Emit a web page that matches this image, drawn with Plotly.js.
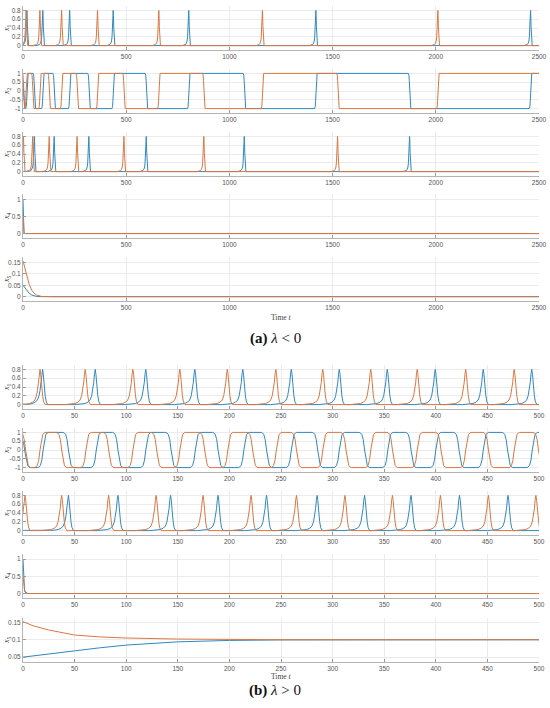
<!DOCTYPE html>
<html><head><meta charset="utf-8">
<script src="https://cdn.plot.ly/plotly-3.0.1.min.js"></script>
<style>html,body{margin:0;padding:0;background:#fff}</style>
</head><body><div id="chart" style="width:550px;height:708px"></div>
<script>
// ================= DATA =================
// (a) lambda < 0 : time 0..2500
const aTMax = 2500;
const a_x1_blue_spikes   = [19, 96, 226, 437, 803, 1419, 2459];
const a_x1_orange_spikes = [15, 82, 187, 361, 658, 1160, 2010];
const a_x2_blue_start    = 0.7;
const a_x2_blue_switch   = [2, 19, 55, 96, 151, 226, 320, 437, 598, 803, 1073, 1419, 1873, 2459];
const a_x2_orange_start  = 1;
const a_x2_orange_switch = [3, 15, 47, 82, 127, 187, 263, 361, 489, 658, 876, 1160, 1526, 2010];
const a_x3_blue_spikes   = [55, 151, 319, 597, 1072, 1873];
const a_x3_orange_spikes = [2, 47, 127, 262, 489, 876, 1524];
const a_x4_t      = [0, 1, 2, 3, 5, 8, 15, 2500];
const a_x4_blue   = [1, 0.3, 0.08, 0.02, 0.003, 0, 0, 0];
const a_x4_orange = [0.5, 0.3, 0.17, 0.1, 0.04, 0.01, 0, 0];
const a_x5_t      = [0, 9, 18, 30, 42, 54, 66, 90, 150, 2500];
const a_x5_blue   = [0.05, 0.038, 0.029, 0.015, 0.007, 0.003, 0.001, 0, 0, 0];
const a_x5_orange = [0.157, 0.12, 0.095, 0.055, 0.029, 0.015, 0.007, 0.001, 0, 0];

// (b) lambda > 0 : time 0..500
const bTMax = 500;
const b_x1_blue_spikes   = [19, 70, 119, 166.5, 213, 260, 306.5, 353, 399.5, 446, 493];
const b_x1_orange_spikes = [16.5, 60.3, 106.5, 152, 198, 245, 290.5, 337, 382, 429, 476];
const b_x2_blue_start    = 0.7;
const b_x2_blue_switch   = [2, 19.5, 44, 71, 92, 119, 143.5, 167, 189, 214, 236, 260, 285.5, 306.5, 331, 353.5, 376, 400, 422.5, 446, 469.5, 493.5];
const b_x2_orange_start  = 1;
const b_x2_orange_switch = [2.5, 16.5, 37.5, 61, 83, 106.5, 129.5, 152, 176, 198.5, 222.5, 245.5, 265, 290.5, 313, 337, 358, 382, 405, 429, 451, 476, 499.5];
const b_x3_blue_spikes   = [44, 92, 143, 189, 236, 285, 331, 376, 423, 470];
const b_x3_orange_spikes = [2, 37.5, 83, 129, 174.5, 221, 265, 312, 358, 404.5, 451, 497];
const b_x4_t      = [0, 0.5, 1, 1.5, 2, 3, 4, 6, 500];
const b_x4_blue   = [1, 0.45, 0.2, 0.09, 0.04, 0.01, 0.002, 0, 0];
const b_x4_orange = [0.5, 0.32, 0.2, 0.12, 0.07, 0.025, 0.008, 0, 0];
const b_x5_t      = [0, 10, 25, 50, 75, 100, 150, 200, 250, 300, 400, 500];
const b_x5_blue   = [0.05, 0.054, 0.059, 0.068, 0.077, 0.0846, 0.094, 0.098, 0.0995, 0.1, 0.1, 0.1];
const b_x5_orange = [0.152, 0.14, 0.128, 0.1135, 0.108, 0.105, 0.102, 0.1005, 0.1, 0.1, 0.1, 0.1];

const spikePeak = 0.8;
// shape of one spike (offset from peak, fraction of peak)
const spikeDt   = [-20, -14, -10, -7, -5, -3.5, -2.5, -1.5, -0.7, 0, 0.7, 1.5, 2.5, 3.5, 5];
const spikeFrac = [0, 0.01, 0.03, 0.07, 0.13, 0.25, 0.4, 0.62, 0.88, 1, 0.85, 0.55, 0.25, 0.08, 0];
// shape of one switch of x2 (offset, fraction of the jump)
const swDt   = [-4, -3, -2, -1, 0, 1, 2, 3, 4];
const swFrac = [0, 0.018, 0.065, 0.208, 0.5, 0.792, 0.935, 0.982, 1];

// tick labels
const aXTicks = [0, 500, 1000, 1500, 2000, 2500];
const bXTicks = [0, 50, 100, 150, 200, 250, 300, 350, 400, 450, 500];
const spikeYTicks = [0, 0.2, 0.4, 0.6, 0.8];
const spikeYText  = ['0', '0.2', '0.4', '0.6', '0.8'];
const swYTicks = [-1, -0.5, 0, 0.5, 1];
const swYText  = ['-1', '-0.5', '0', '0.5', '1'];
const decYTicks = [0, 0.5, 1];
const decYText  = ['0', '0.5', '1'];
const a5YTicks = [0, 0.05, 0.1, 0.15];
const a5YText  = ['0', '0.05', '0.1', '0.15'];
const b5YTicks = [0.05, 0.1, 0.15];
const b5YText  = ['0.05', '0.1', '0.15'];
const yNames = ['1', '2', '3', '4', '5'];

// ================= helpers =================
function interp(xs, ys, t) {
  if (t <= xs[0]) return ys[0];
  if (t >= xs[xs.length - 1]) return ys[ys.length - 1];
  for (let i = 1; i < xs.length; i++) {
    if (t <= xs[i]) { const f = (t - xs[i-1]) / (xs[i] - xs[i-1]); return ys[i-1] + f * (ys[i] - ys[i-1]); }
  }
}
function spikeTrain(times, scale, tMax) {
  let ts = [-50, 0, tMax, tMax + 50];
  times.forEach(T => spikeDt.forEach(d => ts.push(T + d * scale)));
  ts = [...new Set(ts)].sort((a, b) => a - b);
  const y = ts.map(t => {
    let m = 0;
    times.forEach(T => { const v = interp(spikeDt.map(d => T + d * scale), spikeFrac, t); if (v > m) m = v; });
    return m * spikePeak;
  });
  return { x: ts, y: y };
}
function switching(start, times, scale, tMax) {
  const levels = [start];
  times.forEach((T, i) => levels.push(i % 2 === 0 ? -1 : 1));
  const xs = [-50], ys = [start];
  times.forEach((T, i) => swDt.forEach((d, k) => {
    xs.push(T + d * scale); ys.push(levels[i] + swFrac[k] * (levels[i+1] - levels[i]));
  }));
  xs.push(tMax + 50); ys.push(levels[levels.length - 1]);
  return { x: xs, y: ys };
}

// ================= layout geometry =================
const W = 550, H = 708;
const xDom = [23 / W, 539 / W];
const rowsPx = [[6, 50], [69, 113], [132, 176], [194, 238], [257, 301],
                [365, 409], [428, 472], [491, 535], [554, 598], [618, 662]];
const blue = '#3088c2', orange = '#db7742';

const aS = 1.6, bS = 1;
const panels = [
  { b: spikeTrain(a_x1_blue_spikes, aS, aTMax), o: spikeTrain(a_x1_orange_spikes, aS, aTMax), yr: [-0.1, 0.9], yt: spikeYTicks, ytt: spikeYText, tm: aTMax, xt: aXTicks },
  { b: switching(a_x2_blue_start, a_x2_blue_switch, 1.5, aTMax), o: switching(a_x2_orange_start, a_x2_orange_switch, 1.5, aTMax), yr: [-1.25, 1.25], yt: swYTicks, ytt: swYText, tm: aTMax, xt: aXTicks },
  { b: spikeTrain(a_x3_blue_spikes, aS, aTMax), o: spikeTrain(a_x3_orange_spikes, aS, aTMax), yr: [-0.1, 0.9], yt: spikeYTicks, ytt: spikeYText, tm: aTMax, xt: aXTicks },
  { b: { x: a_x4_t, y: a_x4_blue }, o: { x: a_x4_t, y: a_x4_orange }, yr: [-0.13, 1.16], yt: decYTicks, ytt: decYText, tm: aTMax, xt: aXTicks },
  { b: { x: a_x5_t, y: a_x5_blue }, o: { x: a_x5_t, y: a_x5_orange }, yr: [-0.019, 0.174], yt: a5YTicks, ytt: a5YText, tm: aTMax, xt: aXTicks },
  { b: spikeTrain(b_x1_blue_spikes, bS, bTMax), o: spikeTrain(b_x1_orange_spikes, bS, bTMax), yr: [-0.1, 0.9], yt: spikeYTicks, ytt: spikeYText, tm: bTMax, xt: bXTicks },
  { b: switching(b_x2_blue_start, b_x2_blue_switch, 1.3, bTMax), o: switching(b_x2_orange_start, b_x2_orange_switch, 1.3, bTMax), yr: [-1.25, 1.25], yt: swYTicks, ytt: swYText, tm: bTMax, xt: bXTicks },
  { b: spikeTrain(b_x3_blue_spikes, bS, bTMax), o: spikeTrain(b_x3_orange_spikes, bS, bTMax), yr: [-0.1, 0.9], yt: spikeYTicks, ytt: spikeYText, tm: bTMax, xt: bXTicks },
  { b: { x: b_x4_t, y: b_x4_blue }, o: { x: b_x4_t, y: b_x4_orange }, yr: [-0.13, 1.15], yt: decYTicks, ytt: decYText, tm: bTMax, xt: bXTicks },
  { b: { x: b_x5_t, y: b_x5_blue }, o: { x: b_x5_t, y: b_x5_orange }, yr: [0.036, 0.1625], yt: b5YTicks, ytt: b5YText, tm: bTMax, xt: bXTicks }
];

const data = [];
const layout = {
  width: W, height: H, margin: { l: 0, r: 0, t: 0, b: 0 },
  paper_bgcolor: '#fff', plot_bgcolor: '#fff', showlegend: false,
  annotations: []
};
const tickFont = { family: 'Liberation Sans, Arial, sans-serif', size: 6.5, color: '#555' };

panels.forEach((p, i) => {
  const n = i + 1, xa = 'x' + (n === 1 ? '' : n), ya = 'y' + (n === 1 ? '' : n);
  data.push({ x: p.b.x, y: p.b.y, xaxis: xa, yaxis: ya, mode: 'lines', line: { color: blue, width: 1 }, hoverinfo: 'skip' });
  data.push({ x: p.o.x, y: p.o.y, xaxis: xa, yaxis: ya, mode: 'lines', line: { color: orange, width: 1 }, hoverinfo: 'skip' });
  const r = rowsPx[i];
  const dom = [1 - r[1] / H, 1 - r[0] / H];
  layout['xaxis' + (n === 1 ? '' : n)] = {
    domain: xDom, anchor: ya, range: [0, p.tm], tickvals: p.xt, ticktext: p.xt.map(String),
    showgrid: true, gridcolor: '#ebebeb', gridwidth: 1, zeroline: false,
    showline: true, linecolor: '#b4b4b4', linewidth: 1.3,
    ticks: 'inside', ticklen: 3, tickcolor: '#9a9a9a', tickfont: tickFont, fixedrange: true
  };
  layout['yaxis' + (n === 1 ? '' : n)] = {
    domain: dom, anchor: xa, range: p.yr, tickvals: p.yt, ticktext: p.ytt,
    showgrid: true, gridcolor: '#ebebeb', gridwidth: 1, zeroline: false,
    showline: true, linecolor: '#b4b4b4', linewidth: 1,
    ticks: 'inside', ticklen: 3, tickcolor: '#9a9a9a', tickfont: tickFont, fixedrange: true
  };
  layout.annotations.push({
    xref: 'paper', yref: 'paper', x: 7 / W, y: 1 - (r[0] + r[1]) / 2 / H,
    text: '<i>x</i><sub>' + yNames[i % 5] + '</sub>', showarrow: false, textangle: -90,
    font: { family: 'Liberation Serif, serif', size: 8, color: '#333' }, xanchor: 'center', yanchor: 'middle'
  });
});

// axis titles and captions
layout.annotations.push({ xref: 'paper', yref: 'paper', x: 281 / W, y: 1 - 317 / H, text: 'Time <i>t</i>', showarrow: false,
  font: { family: 'Liberation Serif, serif', size: 7.5, color: '#444' }, xanchor: 'center', yanchor: 'middle' });
layout.annotations.push({ xref: 'paper', yref: 'paper', x: 281 / W, y: 1 - 676 / H, text: 'Time <i>t</i>', showarrow: false,
  font: { family: 'Liberation Serif, serif', size: 7.5, color: '#444' }, xanchor: 'center', yanchor: 'middle' });
layout.annotations.push({ xref: 'paper', yref: 'paper', x: 275 / W, y: 1 - 338 / H, text: '<b>(a)</b> <i>λ</i> &lt; 0', showarrow: false,
  font: { family: 'Liberation Serif, serif', size: 15, color: '#111' }, xanchor: 'center', yanchor: 'middle' });
layout.annotations.push({ xref: 'paper', yref: 'paper', x: 275 / W, y: 1 - 690 / H, text: '<b>(b)</b> <i>λ</i> &gt; 0', showarrow: false,
  font: { family: 'Liberation Serif, serif', size: 15, color: '#111' }, xanchor: 'center', yanchor: 'middle' });

Plotly.newPlot('chart', data, layout, { staticPlot: true, displayModeBar: false });
</script>
</body></html>
